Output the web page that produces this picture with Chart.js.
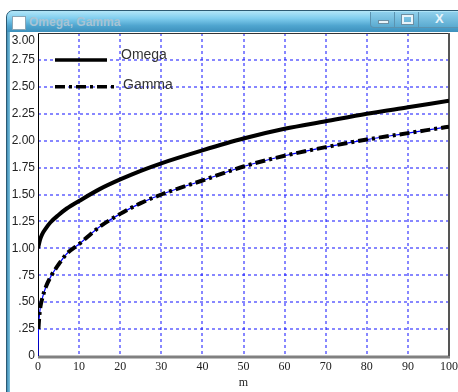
<!DOCTYPE html>
<html>
<head>
<meta charset="utf-8">
<title>Omega, Gamma</title>
<script src="https://cdn.jsdelivr.net/npm/chart.js@4"></script>
<style>
  html, body { margin: 0; padding: 0; background: #fff; }
  body { width: 458px; height: 392px; position: relative; overflow: hidden; }
  #corner { position: absolute; right: 4px; top: -19px; font: italic bold 20px "Liberation Serif", serif; color: #111; }
  #win {
    position: absolute; left: 6px; top: 10px; width: 470px; height: 400px;
    border: 1px solid #2d5a73; border-radius: 7px 7px 0 0;
    background: linear-gradient(to right, #3f8db5 0px, #7ec3de 3px, #7ec3de 4px, #5aa6c8 100%);
    box-sizing: border-box;
  }
  #bar {
    position: absolute; left: 0; top: 0; right: 0; height: 21px; border-radius: 6px 6px 0 0;
    background: linear-gradient(#b2e6f8 0%, #80cdee 35%, #4fa5cf 70%, #3d90bc 100%);
  }
  #icon { position: absolute; left: 5px; top: 5px; width: 12px; height: 12px; background: #fff; border: 1px solid #8aa6b6; }
  #ttl { position: absolute; left: 22px; top: 4px; font: bold 12px "Liberation Sans", Arial, sans-serif; color: #a7c4d4; }
  #btns { position: absolute; left: 363px; top: 1px; width: 90px; height: 15px; border: 1px solid #5b93b0; border-top: none; border-radius: 0 0 4px 4px;
    background: linear-gradient(#8fd0ec, #5aaad0); }
  .b { position: absolute; top: 0; height: 15px; border-right: 1px solid #5b93b0; }
  #bmin { left: 0; width: 23px; } #bmax { left: 24px; width: 23px; } #bx { left: 48px; width: 42px; border-right: none; }
  #bmin i { position: absolute; left: 7px; top: 8px; width: 9px; height: 2px; background: #e8f4fa; border: 1px solid #6d8fa2; }
  #bmax i { position: absolute; left: 7px; top: 3px; width: 7px; height: 5px; border: 2px solid #e8f4fa; outline: 1px solid #6d8fa2; }
  #bx span { position: absolute; left: 16px; top: -1px; font: bold 13px "Liberation Sans", sans-serif; color: #e8f4fa; }
  #client { position: absolute; left: 3px; top: 21px; width: 460px; height: 380px; background: #fff; }
  #chart { position: absolute; left: 0; top: 0; }
</style>
</head>
<body>
<div id="corner">ω</div>
<div id="win">
  <div id="bar">
    <div id="icon"></div>
    <div id="ttl">Omega, Gamma</div>
    <div id="btns">
      <div class="b" id="bmin"><i></i></div>
      <div class="b" id="bmax"><i></i></div>
      <div class="b" id="bx"><span>X</span></div>
    </div>
  </div>
  <div id="client"></div>
</div>
<canvas id="chart" width="458" height="392"></canvas>
<script>
  // Series
  const omegaM = [0, 0.5, 1, 2, 3, 5, 7, 10, 15, 20, 25, 30, 40, 50, 60, 70, 80, 90, 100];
  const omegaValues = [1.0, 1.08, 1.13, 1.19, 1.24, 1.31, 1.37, 1.44, 1.55, 1.64, 1.72, 1.79, 1.91, 2.02, 2.11, 2.18, 2.25, 2.31, 2.37];
  const gammaM = [0, 0.1, 0.3, 0.6, 1, 2, 3.3, 5, 7, 10, 15, 20, 25, 30, 40, 50, 60, 70, 80, 90, 100];
  const gammaValues = [0, 0.25, 0.36, 0.46, 0.53, 0.65, 0.75, 0.85, 0.95, 1.04, 1.2, 1.32, 1.42, 1.5, 1.63, 1.76, 1.86, 1.94, 2.01, 2.07, 2.13];

  // Axis labels
  const yTickLabels = ["0", ".25", ".50", ".75", "1.00", "1.25", "1.50", "1.75", "2.00", "2.25", "2.50", "2.75", "3.00"];
  const xTickLabels = ["0", "10", "20", "30", "40", "50", "60", "70", "80", "90", "100"];
  const seriesNames = ["Omega", "Gamma"];
  const xTitle = "m";

  const pts = (xs, ys) => xs.map((x, i) => ({ x: x, y: ys[i] }));
  const GRID = "#1010ff";
  const DASHDOT = [10, 4, 3, 4];

  // Grid, frame, legend and the shifted top label
  const decor = {
    id: "decor",
    beforeDatasetsDraw(chart) {
      const { ctx, chartArea: a } = chart;
      const xs = chart.scales.x, ys = chart.scales.y;
      ctx.save();
      // dashed blue grid
      ctx.strokeStyle = GRID;
      ctx.lineWidth = 1;
      ctx.setLineDash([3, 3]);
      xs.ticks.forEach((t) => {
        if (t.value <= xs.min || t.value >= xs.max) return;
        const x = Math.round(xs.getPixelForValue(t.value));
        ctx.beginPath(); ctx.moveTo(x, a.top); ctx.lineTo(x, a.bottom); ctx.stroke();
      });
      ys.ticks.forEach((t) => {
        if (t.value <= ys.min || t.value >= ys.max) return;
        const y = Math.round(ys.getPixelForValue(t.value));
        ctx.beginPath(); ctx.moveTo(a.left, y); ctx.lineTo(a.right, y); ctx.stroke();
      });
      ctx.setLineDash([]);
      // plot frame
      ctx.lineWidth = 3;
      ctx.strokeStyle = "#808080";
      ctx.beginPath(); ctx.moveTo(a.left, a.bottom + 1); ctx.lineTo(a.right + 1, a.bottom + 1); ctx.stroke();
      ctx.lineWidth = 1;
      ctx.strokeStyle = "#000";
      ctx.beginPath(); ctx.moveTo(a.left + 0.5, a.top); ctx.lineTo(a.left + 0.5, a.bottom); ctx.stroke();
      ctx.strokeStyle = "#333";
      ctx.beginPath(); ctx.moveTo(a.left, a.top + 0.5); ctx.lineTo(a.right, a.top + 0.5); ctx.stroke();
      ctx.lineWidth = 2;
      ctx.strokeStyle = "#555";
      ctx.beginPath(); ctx.moveTo(a.right, a.top); ctx.lineTo(a.right, a.bottom); ctx.stroke();
      ctx.restore();
    },
    afterDraw(chart) {
      const { ctx, chartArea: a } = chart;
      const ys = chart.scales.y;
      ctx.save();
      // top label pushed down, as in the original
      ctx.font = "12px 'Liberation Sans', Arial, sans-serif";
      ctx.fillStyle = "#222";
      ctx.textAlign = "right";
      ctx.textBaseline = "middle";
      ctx.fillText(yTickLabels[yTickLabels.length - 1], a.left - 3, a.top + 8);
      // legend
      const y1 = ys.getPixelForValue(2.75), y2 = ys.getPixelForValue(2.5);
      ctx.strokeStyle = "#000";
      ctx.lineWidth = 3.5;
      ctx.beginPath(); ctx.moveTo(a.left + 17, y1); ctx.lineTo(a.left + 69, y1); ctx.stroke();
      ctx.setLineDash(DASHDOT);
      ctx.beginPath(); ctx.moveTo(a.left + 17, y2); ctx.lineTo(a.left + 79, y2); ctx.stroke();
      ctx.setLineDash([]);
      ctx.font = "14px 'Liberation Sans', Arial, sans-serif";
      ctx.fillStyle = "#333";
      ctx.textAlign = "left";
      ctx.textBaseline = "alphabetic";
      ctx.fillText(seriesNames[0], a.left + 83, y1 - 1);
      ctx.fillText(seriesNames[1], a.left + 85, y2 + 2);
      ctx.restore();
    }
  };

  new Chart(document.getElementById("chart"), {
    type: "line",
    data: {
      datasets: [
        { label: seriesNames[0], data: pts(omegaM, omegaValues), borderColor: "#000", borderWidth: 4, order: 0 },
        { label: seriesNames[1], data: pts(gammaM.slice(1), gammaValues.slice(1)), borderColor: "#000", borderWidth: 4, borderDash: DASHDOT, order: 0 },
        { label: "omega-ref", data: pts(omegaM, omegaValues), borderColor: "#e00000", borderWidth: 1, order: 1 },
        { label: "gamma-ref", data: pts(gammaM, gammaValues), borderColor: "#0000ff", borderWidth: 1.2, order: 1 }
      ]
    },
    options: {
      responsive: false,
      animation: false,
      events: [],
      layout: { autoPadding: false, padding: { left: 0, top: 33, right: 9, bottom: 0 } },
      elements: {
        point: { radius: 0 },
        line: { cubicInterpolationMode: "monotone", borderCapStyle: "butt", fill: false }
      },
      plugins: { legend: { display: false }, tooltip: { enabled: false } },
      scales: {
        x: {
          type: "linear", min: 0, max: 100,
          // fixed box, no room reserved for the overhanging "100"
          afterFit: (s) => { s.height = 36; s.paddingLeft = 0; s.paddingRight = 0; },
          ticks: {
            stepSize: 10, padding: 4, color: "#222", maxRotation: 0,
            font: { family: "'Liberation Serif', 'Times New Roman', serif", size: 12 },
            callback: (v) => xTickLabels[Math.round(v / 10)]
          },
          grid: { display: false, drawTicks: false },
          border: { display: false },
          title: {
            display: true, text: xTitle, color: "#222", padding: { top: 0, bottom: 2 },
            font: { family: "'Liberation Serif', 'Times New Roman', serif", size: 12 }
          }
        },
        y: {
          min: 0, max: 3,
          afterFit: (s) => { s.width = 38; s.paddingTop = 0; s.paddingBottom = 0; },
          ticks: {
            stepSize: 0.25, padding: 3, color: "#222",
            font: { family: "'Liberation Sans', Arial, sans-serif", size: 12 },
            callback: (v) => {
              const i = Math.round(v / 0.25);
              return i === yTickLabels.length - 1 ? "" : yTickLabels[i];
            }
          },
          grid: { display: false, drawTicks: false },
          border: { display: false }
        }
      }
    },
    plugins: [decor]
  });
</script>
</body>
</html>
